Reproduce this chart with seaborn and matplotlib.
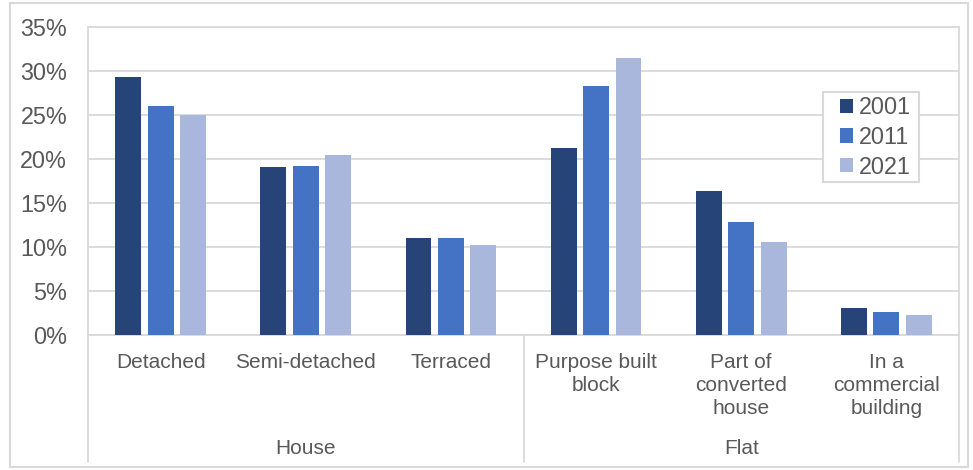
import matplotlib
matplotlib.use("Agg")
import matplotlib.pyplot as plt
import matplotlib.transforms as mtransforms
from matplotlib.patches import Rectangle
import seaborn as sns
import pandas as pd

# Dwelling types, grouped into houses and flats
categories = ["Detached", "Semi-detached", "Terraced",
              "Purpose built\nblock", "Part of\nconverted\nhouse",
              "In a\ncommercial\nbuilding"]
groups = ["House", "Flat"]
group_sizes = [3, 3]
years = ["2001", "2011", "2021"]

# Share of households (%) by dwelling type and census year
share_2001 = [29.3, 19.1, 11.0, 21.2, 16.4, 3.05]
share_2011 = [26.0, 19.25, 11.0, 28.3, 12.8, 2.6]
share_2021 = [25.0, 20.5, 10.2, 31.5, 10.6, 2.3]

yticks = [0, 5, 10, 15, 20, 25, 30, 35]

colors = {"2001": "#264478", "2011": "#4472C4", "2021": "#A9B7DC"}
grid_c = "#D9D9D9"
text_c = "#595959"

df = pd.DataFrame({
    "category": categories * 3,
    "year": [y for y in years for _ in categories],
    "share": share_2001 + share_2011 + share_2021,
})

sns.set_theme(style="white")
plt.rcParams["font.family"] = ["Liberation Sans", "DejaVu Sans"]

fig = plt.figure(figsize=(9.73, 4.70), dpi=100)
W, H = 973, 470
ax = fig.add_axes([88 / W, 1 - 335 / H, (959 - 88) / W, (335 - 27) / H])

sns.barplot(data=df, x="category", y="share", hue="year",
            order=categories, hue_order=years, palette=colors,
            saturation=1, width=0.67, gap=0.2, linewidth=0, ax=ax, zorder=3)

ax.set_xlim(-0.5, len(categories) - 0.5)
ax.set_ylim(0, 35)
ax.set_yticks(yticks)
ax.set_yticklabels([f"{t}%" for t in yticks], fontsize=16.8, color=text_c)
ax.set_xticks(range(len(categories)))
ax.set_xticklabels(categories, fontsize=15, color=text_c, linespacing=1.25)
ax.tick_params(axis="x", length=0, pad=13)
ax.tick_params(axis="y", length=0, pad=15)
ax.set_xlabel("")
ax.set_ylabel("")

ax.set_axisbelow(True)
ax.yaxis.grid(True, color=grid_c, linewidth=1.3)
ax.xaxis.grid(False)
for side in ["left", "right", "top", "bottom"]:
    ax.spines[side].set_color(grid_c)
    ax.spines[side].set_linewidth(1.3)

# Group dividers and group labels beneath the category labels
blend = mtransforms.blended_transform_factory(ax.transData, ax.transAxes)
y_low = -(462 - 335) / (335 - 27)
start = 0
bounds = [-0.5]
for g, n in zip(groups, group_sizes):
    center = start + (n - 1) / 2
    ax.text(center, -(449 - 335) / (335 - 27), g, transform=blend,
            ha="center", va="center", fontsize=15, color=text_c)
    start += n
    bounds.append(start - 0.5)
for b in bounds:
    ax.plot([b, b], [0, y_low], transform=blend, color=grid_c,
            linewidth=1.3, clip_on=False)

# Legend entries without their own frame; a separate box frames them
leg = ax.legend(loc="upper left", bbox_to_anchor=(840 / W, 1 - 96 / H),
                bbox_transform=fig.transFigure, frameon=False,
                fontsize=16.8, handlelength=0.56, handleheight=0.56,
                handletextpad=0.25, labelspacing=0.29, borderpad=0,
                borderaxespad=0, title=None)
for t in leg.get_texts():
    t.set_color(text_c)
leg.set_zorder(6)
ax.add_patch(Rectangle((823 / W, 1 - 182 / H), (919 - 823) / W, (182 - 92) / H,
                       transform=fig.transFigure, facecolor="white",
                       edgecolor=grid_c, linewidth=1.5, zorder=5, clip_on=False))

# Outer chart border
fig.patches.append(Rectangle((10 / W, 1 - 467 / H), (968 - 10) / W, (467 - 3) / H,
                             transform=fig.transFigure, fill=False,
                             edgecolor=grid_c, linewidth=1.5))

fig.savefig("out.png", dpi=100)
